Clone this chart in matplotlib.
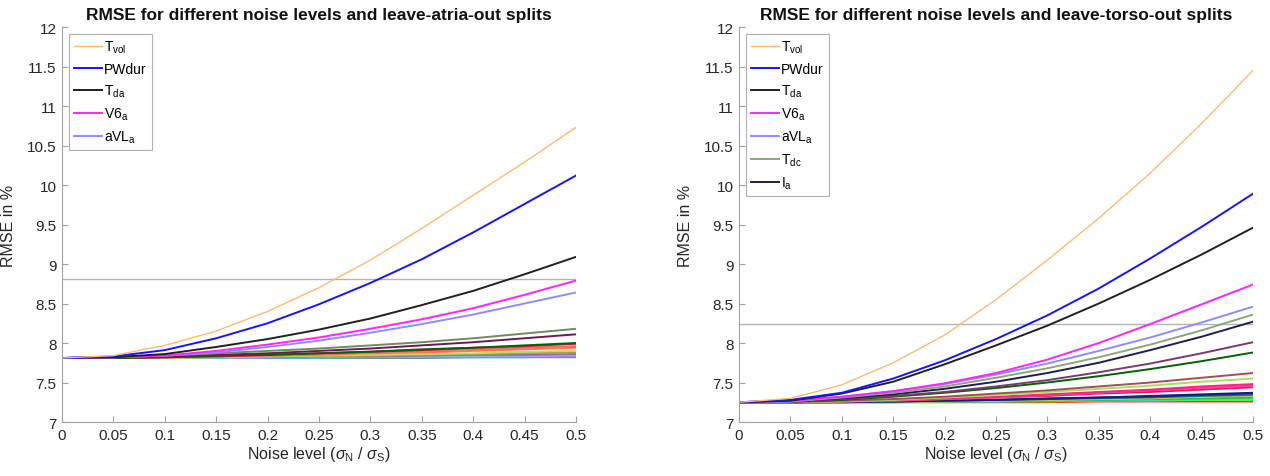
import matplotlib
matplotlib.use("Agg")
import matplotlib.pyplot as plt
import numpy as np

plt.rcParams["font.family"] = ["Liberation Sans", "DejaVu Sans"]
plt.rcParams["mathtext.fontset"] = "custom"
plt.rcParams["mathtext.rm"] = "Liberation Sans"
plt.rcParams["mathtext.it"] = "Liberation Sans:italic"

# noise levels (sigma_N / sigma_S)
noise = [0, 0.05, 0.1, 0.15, 0.2, 0.25, 0.3, 0.35, 0.4, 0.45, 0.5]

# ---- leave-atria-out ----
atria_labels = [r"T$_{\rm vol}$", "PWdur", r"T$_{\rm da}$", r"V6$_{\rm a}$", r"aVL$_{\rm a}$"]
atria_rmse = [
    [7.81, 7.84, 7.97, 8.15, 8.40, 8.70, 9.05, 9.45, 9.87, 10.29, 10.73],
    [7.81, 7.83, 7.91, 8.06, 8.25, 8.49, 8.76, 9.06, 9.40, 9.76, 10.12],
    [7.81, 7.82, 7.86, 7.95, 8.05, 8.17, 8.31, 8.48, 8.66, 8.87, 9.09],
    [7.81, 7.82, 7.84, 7.90, 7.98, 8.07, 8.18, 8.30, 8.44, 8.61, 8.79],
    [7.81, 7.82, 7.84, 7.88, 7.95, 8.03, 8.13, 8.24, 8.36, 8.50, 8.64],
    [7.81, 7.82, 7.84, 7.87, 7.90, 7.93, 7.97, 8.01, 8.06, 8.12, 8.18],
    [7.81, 7.82, 7.83, 7.85, 7.87, 7.90, 7.93, 7.97, 8.01, 8.06, 8.11],
    [7.81, 7.81, 7.82, 7.84, 7.85, 7.87, 7.89, 7.92, 7.94, 7.97, 8.00],
    [7.81, 7.81, 7.82, 7.83, 7.85, 7.87, 7.89, 7.91, 7.94, 7.96, 7.99],
    [7.81, 7.81, 7.82, 7.83, 7.84, 7.86, 7.88, 7.90, 7.92, 7.94, 7.96],
    [7.81, 7.81, 7.82, 7.83, 7.84, 7.85, 7.87, 7.88, 7.90, 7.92, 7.94],
    [7.81, 7.81, 7.81, 7.82, 7.83, 7.84, 7.85, 7.86, 7.87, 7.89, 7.90],
    [7.81, 7.81, 7.81, 7.82, 7.83, 7.83, 7.84, 7.85, 7.86, 7.87, 7.88],
    [7.81, 7.81, 7.81, 7.82, 7.82, 7.83, 7.83, 7.84, 7.85, 7.85, 7.86],
    [7.81, 7.81, 7.81, 7.81, 7.82, 7.82, 7.83, 7.83, 7.84, 7.84, 7.85],
    [7.81, 7.81, 7.81, 7.81, 7.82, 7.82, 7.82, 7.83, 7.83, 7.83, 7.84],
    [7.81, 7.81, 7.81, 7.81, 7.81, 7.81, 7.82, 7.82, 7.82, 7.82, 7.83],
    [7.81, 7.81, 7.81, 7.81, 7.81, 7.81, 7.81, 7.81, 7.82, 7.82, 7.82],
]
atria_colors = ["#FFB870", "#1414FF", "#202020", "#FF22FF", "#8C8CFF",
                "#6E8C60", "#6A1A5A", "#006400", "#E0103A", "#FF6080",
                "#FF7A40", "#B8E060", "#A0A040", "#A060C0", "#80C0FF",
                "#C080FF", "#20C0C0", "#808080"]
atria_ref = 8.81

# ---- leave-torso-out ----
torso_labels = [r"T$_{\rm vol}$", "PWdur", r"T$_{\rm da}$", r"V6$_{\rm a}$",
                r"aVL$_{\rm a}$", r"T$_{\rm dc}$", r"I$_{\rm a}$"]
torso_rmse = [
    [7.25, 7.30, 7.47, 7.75, 8.10, 8.55, 9.05, 9.58, 10.15, 10.78, 11.45],
    [7.25, 7.28, 7.37, 7.55, 7.78, 8.05, 8.35, 8.69, 9.07, 9.47, 9.89],
    [7.25, 7.27, 7.36, 7.51, 7.73, 7.97, 8.22, 8.50, 8.80, 9.12, 9.46],
    [7.25, 7.27, 7.32, 7.39, 7.49, 7.62, 7.79, 8.00, 8.24, 8.49, 8.74],
    [7.25, 7.26, 7.32, 7.39, 7.48, 7.60, 7.74, 7.90, 8.07, 8.26, 8.46],
    [7.25, 7.26, 7.31, 7.37, 7.45, 7.56, 7.68, 7.82, 7.98, 8.16, 8.36],
    [7.25, 7.26, 7.30, 7.35, 7.42, 7.51, 7.62, 7.75, 7.91, 8.08, 8.27],
    [7.25, 7.26, 7.29, 7.33, 7.38, 7.45, 7.53, 7.63, 7.74, 7.87, 8.01],
    [7.25, 7.26, 7.28, 7.32, 7.37, 7.43, 7.50, 7.58, 7.67, 7.77, 7.88],
    [7.25, 7.25, 7.27, 7.29, 7.32, 7.36, 7.40, 7.45, 7.50, 7.56, 7.62],
    [7.25, 7.25, 7.26, 7.28, 7.31, 7.34, 7.38, 7.42, 7.46, 7.51, 7.55],
    [7.25, 7.25, 7.26, 7.28, 7.30, 7.32, 7.35, 7.38, 7.41, 7.45, 7.48],
    [7.25, 7.25, 7.26, 7.27, 7.29, 7.31, 7.34, 7.37, 7.40, 7.43, 7.46],
    [7.25, 7.25, 7.26, 7.27, 7.29, 7.31, 7.33, 7.36, 7.38, 7.41, 7.44],
    [7.25, 7.25, 7.26, 7.26, 7.27, 7.28, 7.30, 7.31, 7.33, 7.35, 7.37],
    [7.25, 7.25, 7.25, 7.26, 7.27, 7.28, 7.29, 7.31, 7.32, 7.34, 7.36],
    [7.25, 7.25, 7.25, 7.26, 7.27, 7.28, 7.29, 7.30, 7.31, 7.33, 7.34],
    [7.25, 7.25, 7.25, 7.26, 7.26, 7.27, 7.28, 7.29, 7.30, 7.32, 7.33],
    [7.25, 7.25, 7.25, 7.26, 7.26, 7.27, 7.27, 7.28, 7.29, 7.30, 7.31],
    [7.25, 7.25, 7.25, 7.25, 7.26, 7.26, 7.27, 7.28, 7.28, 7.29, 7.30],
    [7.25, 7.25, 7.25, 7.25, 7.26, 7.26, 7.26, 7.27, 7.27, 7.28, 7.28],
    [7.25, 7.25, 7.25, 7.25, 7.25, 7.25, 7.25, 7.26, 7.26, 7.26, 7.26],
]
torso_colors = ["#FFB870", "#1414FF", "#202020", "#FF22FF", "#8C8CFF",
                "#8AA878", "#1E1E50", "#7A3A6A", "#006400", "#A05050",
                "#A8E060", "#FF2080", "#FF40A0", "#E01860", "#102080",
                "#2030A0", "#108080", "#E0E020", "#20C040", "#20E0E0",
                "#40FF40", "#FF2020"]
torso_ref = 8.24

xticks = [0, 0.05, 0.1, 0.15, 0.2, 0.25, 0.3, 0.35, 0.4, 0.45, 0.5]
xticklabels = ["0", "0.05", "0.1", "0.15", "0.2", "0.25", "0.3", "0.35", "0.4", "0.45", "0.5"]
yticks = [7, 7.5, 8, 8.5, 9, 9.5, 10, 10.5, 11, 11.5, 12]
yticklabels = ["7", "7.5", "8", "8.5", "9", "9.5", "10", "10.5", "11", "11.5", "12"]


def draw_panel(ax, title, rmse, colors, labels, ref):
    # reference line first so curves sit on top
    ax.axhline(ref, color="#B4B4B4", linewidth=1.0, zorder=1)
    for i in reversed(range(len(rmse))):
        lw = 1.0 if i == 0 else 1.4
        label = labels[i] if i < len(labels) else None
        ax.plot(noise, rmse[i], color=colors[i], linewidth=lw, label=label, zorder=2)

    ax.set_xlim(0, 0.5)
    ax.set_ylim(7, 12)
    ax.set_xticks(xticks)
    ax.set_xticklabels(xticklabels)
    ax.set_yticks(yticks)
    ax.set_yticklabels(yticklabels)
    ax.tick_params(direction="in", length=4, width=0.8, color="#A0A0A0",
                   labelsize=11, labelcolor="#262626", pad=4)
    for s in ["top", "right"]:
        ax.spines[s].set_visible(False)
    for s in ["left", "bottom"]:
        ax.spines[s].set_color("#A0A0A0")
        ax.spines[s].set_linewidth(0.8)

    ax.set_title(title, fontsize=12.5, fontweight="bold", color="#111111", pad=6)
    ax.set_xlabel(r"Noise level ($\sigma_{\rm N}$ / $\sigma_{\rm S}$)", fontsize=11.5, color="#262626", labelpad=2)
    ax.set_ylabel("RMSE in %", fontsize=11.5, color="#262626", labelpad=8)

    handles, labs = ax.get_legend_handles_labels()
    handles, labs = handles[::-1], labs[::-1]
    leg = ax.legend(handles, labs, loc="upper left", bbox_to_anchor=(0.008, 0.99),
                    fontsize=10, frameon=True, fancybox=False, framealpha=1,
                    edgecolor="#B0B0B0", handlelength=2.0, handletextpad=0.2,
                    borderpad=0.35, labelspacing=0.48, borderaxespad=0.2)
    leg.get_frame().set_linewidth(0.8)


fig = plt.figure(figsize=(12.7, 4.77), dpi=100)
ax1 = fig.add_axes([0.0488, 0.1132, 0.4047, 0.828])
ax2 = fig.add_axes([0.5819, 0.1132, 0.4047, 0.828])

draw_panel(ax1, "RMSE for different noise levels and leave-atria-out splits",
           atria_rmse, atria_colors, atria_labels, atria_ref)
draw_panel(ax2, "RMSE for different noise levels and leave-torso-out splits",
           torso_rmse, torso_colors, torso_labels, torso_ref)

fig.savefig("out.png", dpi=100)
